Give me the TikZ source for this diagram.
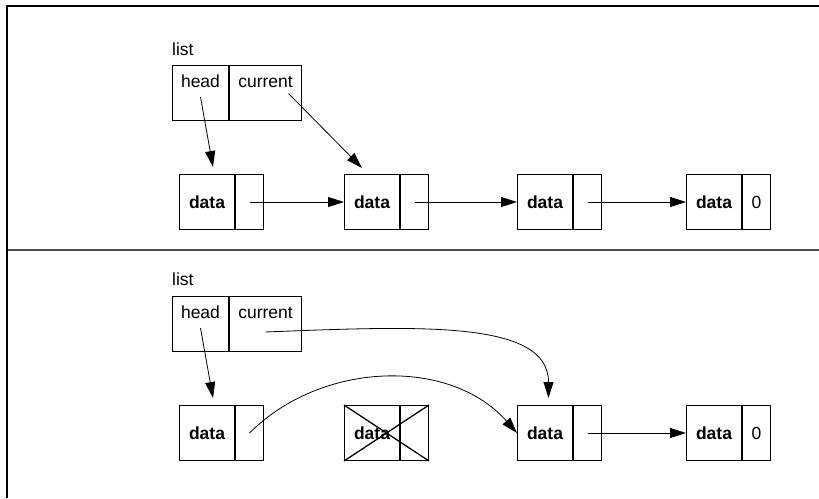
\documentclass[tikz,border=0pt]{standalone}
\usepackage{fontspec}
\setmainfont{Liberation Sans}
\usepackage{tikz}
\usetikzlibrary{arrows.meta}

\newcommand{\labelsize}{\fontsize{17.5}{20}\selectfont}

\tikzset{
  cell/.style={draw, line width=1pt, minimum height=55pt, inner sep=0pt, anchor=north west},
  datacell/.style={cell, minimum width=55pt, font=\labelsize\bfseries},
  linkcell/.style={cell, minimum width=28pt},
  listcell/.style={draw, line width=1pt, inner xsep=0pt, inner ysep=6.5pt,
    text height=15.5pt, text depth=26.5pt, anchor=north west},
  ptr/.style={line width=0.8pt, -{Triangle[length=16pt,width=10pt]}},
  sep/.style={line width=1.7pt},
}

\begin{document}
\begin{tikzpicture}[x=1pt,y=-1pt,font=\labelsize]
    \useasboundingbox (0,0) rectangle (819,498);
    % Frame and divider
    \draw[line width=2pt] (7,498) -- (7,6) -- (819,6);
    \draw[line width=1.3pt,black!70] (8,250) -- (819,250);

    % ---- Before ----
    \node[anchor=base west,inner sep=0pt] (lbl1) at (172,55) {list};
    \node[listcell,minimum width=56pt] (head1) at (172,65) {head};
    \node[listcell,minimum width=72pt] (cur1) at (head1.north east) {current};
    \draw[sep] (head1.north east) -- (head1.south east);
    % List nodes
    \foreach \i/\x/\nxt in {1/179/,2/344/,3/517/,4/686/0} {
        \node[datacell] (d\i) at (\x,174) {data};
        \node[linkcell] (p\i) at (d\i.north east) {\nxt};
        \draw[sep] (d\i.north east) -- (d\i.south east);
    }
    \foreach \i/\j in {1/2,2/3,3/4}
        \draw[ptr] (p\i.center) -- (d\j.west);
    \draw[ptr] ([yshift=-4pt]head1.center) -- ([shift={(6pt,7pt)}]d1.north);
    \draw[ptr] ([xshift=23pt,yshift=-0.5pt]cur1.center) -- ([shift={(-10pt,6pt)}]d2.north);

    % ---- After removal ----
    \node[anchor=base west,inner sep=0pt] (lbl2) at (172,285) {list};
    \node[listcell,minimum width=56pt] (head2) at (172,296) {head};
    \node[listcell,minimum width=72pt] (cur2) at (head2.north east) {current};
    \draw[sep] (head2.north east) -- (head2.south east);
    \foreach \i/\x/\nxt in {1/179/,2/344/,3/517/,4/686/0} {
        \node[datacell] (e\i) at (\x,405) {data};
        \node[linkcell] (q\i) at (e\i.north east) {\nxt};
        \draw[sep] (e\i.north east) -- (e\i.south east);
    }
    % Removed node
    \draw[line width=1.3pt] (e2.north west) -- (q2.south east);
    \draw[line width=1.3pt] (e2.south west) -- (q2.north east);
    \draw[ptr] (q3.center) -- (e4.west);
    \draw[ptr] ([yshift=-4pt]head2.center) -- ([shift={(6pt,7pt)}]e1.north);
    \draw[ptr] ([yshift=-8pt]cur2.center) .. controls +(155,-6) and +(0,-78) .. ([shift={(3.5pt,7pt)}]e3.north);
    \draw[ptr] (q1.center) .. controls +(72,-72) and +(-67,-76) .. (e3.west);
\end{tikzpicture}
\end{document}
